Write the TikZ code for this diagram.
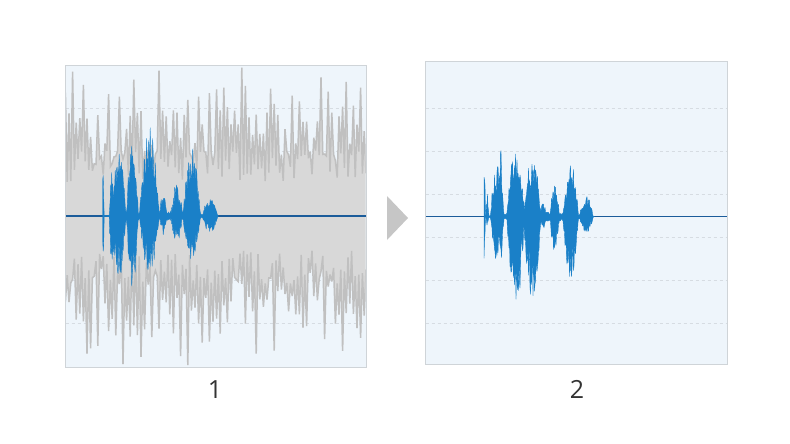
\documentclass[tikz,border=0pt]{standalone}
\usepackage{fontspec}
\setmainfont{Open Sans}
\definecolor{panelbg}{HTML}{EEF5FB}
\definecolor{panelborder}{HTML}{CFD4D8}
\definecolor{gridc}{HTML}{D6DCE2}
\definecolor{noisefill}{HTML}{D8D8D8}
\definecolor{noiseline}{HTML}{C0C0C0}
\definecolor{speechc}{HTML}{1A80C8}
\definecolor{axisc}{HTML}{1B5C9A}
\definecolor{arrowc}{HTML}{C6C6C6}
\definecolor{labelc}{HTML}{333333}
\begin{document}
\begin{tikzpicture}[x=1pt,y=-1pt,
  panelfill/.style={fill=panelbg},
  panelframe/.style={draw=panelborder, line width=1pt},
  gridline/.style={gridc, line width=0.9pt, dash pattern=on 3.3pt off 2.7pt},
  noise/.style={fill=noisefill, draw=noiseline, line width=1.5pt, line join=miter, miter limit=4},
  speech/.style={fill=speechc, draw=speechc, line width=0.35pt, line join=miter, miter limit=4},
  axisline/.style={axisc, line width=1.4pt},
  numlabel/.style={text=labelc, font=\fontsize{25}{30}\selectfont, anchor=base},
  declare function={
    bp(\t,\c,\w)=max(0,1-((\t-\c)/\w)^2);
    envAT(\t)=max(53*bp(\t,0.3,1.2), 46*bp(\t,9,2.5), 66*bp(\t,15.7,8), 82*bp(\t,29.7,6),
                  89*bp(\t,46.7,10), 25*bp(\t,60.7,4), 33*bp(\t,74,6),
                  68*bp(\t,89,9), 19*bp(\t,107.3,8), 5*bp(\t,58,58));
    envAB(\t)=max(47*bp(\t,0.3,1.2), 55*bp(\t,9,2.5), 66*bp(\t,15.7,8), 74*bp(\t,29.7,6),
                  57*bp(\t,46.7,10), 20*bp(\t,60.7,4), 27*bp(\t,74,6),
                  44*bp(\t,89,9), 17*bp(\t,107.3,8), 5*bp(\t,58,58));
    envBT(\t)=max(49*bp(\t,0.3,1.2), 23*bp(\t,3.3,1.5), 56*bp(\t,13.3,7), 70*bp(\t,16.7,2),
                  72*bp(\t,31.7,9), 62*bp(\t,48.3,9), 17*bp(\t,59,3), 32*bp(\t,70.7,5),
                  56*bp(\t,86.7,8), 22*bp(\t,102.3,7), 5*bp(\t,55,55));
    envBB(\t)=max(55*bp(\t,0.3,1.2), 10*bp(\t,3.3,1.5), 45*bp(\t,13.3,7), 67*bp(\t,16.7,2),
                  93*bp(\t,31.7,9), 82*bp(\t,48.3,9), 15*bp(\t,59,3), 35*bp(\t,70.7,5),
                  65*bp(\t,86.7,8), 18*bp(\t,102.3,7), 5*bp(\t,55,55));
  }]
\pgfmathsetseed{4711}
\useasboundingbox (0,0) rectangle (790,444);

% ---------------- panel 1 ----------------
\path[panelfill] (65,66) rectangle (366,367);
\foreach \yy in {108.5,151.5,194.5,237.5,280.5,323.5}
  \draw[gridline] (65.5,\yy) -- (365.5,\yy);
\begin{scope}
  \clip (65.5,66.5) rectangle (365.5,366.5);
  \path[noise] (60,216)
    \foreach \i in {0,...,173} { -- ({60+\i*1.8}, {216-(34+34*rnd+mod(\i,2)*(15+70*rnd^1.5))}) }
    \foreach \i in {173,172,...,0} { -- ({60+\i*1.8}, {216+(34+34*rnd+mod(\i,2)*(15+74*rnd^1.5))}) }
    -- cycle;
\end{scope}
\draw[axisline] (65.5,216) -- (365.5,216);
\path[speech] (102.7,216)
  \foreach \i in {0,...,232} { -- ({102.7+\i*0.5}, {216-envAT(\i*0.5)*(0.45+0.55*rnd^1.3)}) }
  \foreach \i in {232,231,...,0} { -- ({102.7+\i*0.5}, {216+envAB(\i*0.5)*(0.45+0.55*rnd^1.3)}) }
  -- cycle;
\draw[panelframe] (65,66) rectangle (366,367);

% ---------------- arrow ----------------
\fill[arrowc] (387,196) -- (408,218) -- (387,240) -- cycle;

% ---------------- panel 2 ----------------
\path[panelfill] (425,62) rectangle (727,364);
\foreach \yy in {108.5,151.5,194.5,237.5,280.5,323.5}
  \draw[gridline] (425.5,\yy) -- (726.5,\yy);
\draw[axisline] (425.5,216.7) -- (726.5,216.7);
\path[speech] (484,216.7)
  \foreach \i in {0,...,222} { -- ({484+\i*0.5}, {216.7-envBT(\i*0.5)*(0.45+0.55*rnd^1.3)}) }
  \foreach \i in {222,221,...,0} { -- ({484+\i*0.5}, {216.7+envBB(\i*0.5)*(0.45+0.55*rnd^1.3)}) }
  -- cycle;
\draw[panelframe] (425,62) rectangle (727,364);

% ---------------- labels ----------------
\node[numlabel] (lab1) at (215,398) {1};
\node[numlabel] (lab2) at (577,398) {2};
\end{tikzpicture}
\end{document}
